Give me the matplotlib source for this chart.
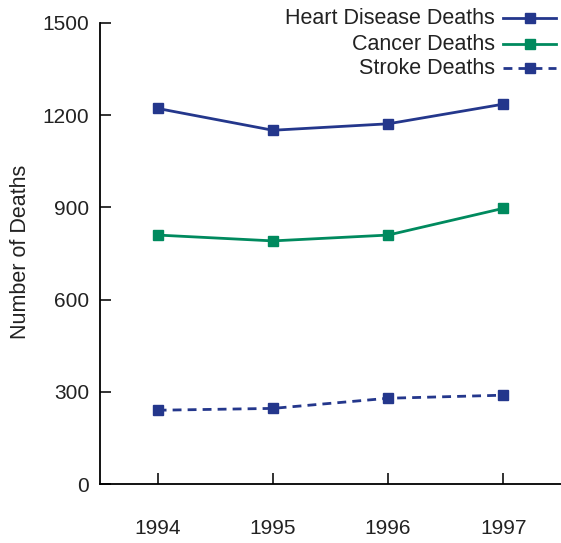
import matplotlib
matplotlib.use("Agg")
import matplotlib.pyplot as plt
from matplotlib.lines import Line2D

years = [1994, 1995, 1996, 1997]
heart = [1222, 1151, 1172, 1236]
cancer = [810, 791, 810, 897]
stroke = [240, 246, 279, 289]
yticks = [0, 300, 600, 900, 1200, 1500]

navy = "#24378c"
green = "#008a5e"
series = [
    ("Heart Disease Deaths", heart, navy, "-"),
    ("Cancer Deaths", cancer, green, "-"),
    ("Stroke Deaths", stroke, navy, (0, (3.2, 2.2))),
]

plt.rcParams["font.family"] = ["Liberation Sans", "DejaVu Sans"]
fig = plt.figure(figsize=(5.61, 5.43), dpi=100)
ax = fig.add_axes([100 / 561, 1 - 484 / 543, 461 / 561, 461 / 543])

for name, vals, col, ls in series:
    ax.plot(years, vals, color=col, linestyle=ls, lw=2.0, marker="s", ms=6.5,
            markeredgecolor=col, markerfacecolor=col)

ax.set_xlim(1993.5, 1997.5)
ax.set_ylim(0, 1500)
ax.set_xticks(years)
ax.set_xticklabels([str(y) for y in years])
ax.set_yticks(yticks)
ax.spines["top"].set_visible(False)
ax.spines["right"].set_visible(False)
ax.spines["left"].set_linewidth(1.3)
ax.spines["bottom"].set_linewidth(1.3)
ax.tick_params(axis="y", direction="in", length=8, width=1.3, pad=8, labelsize=15, colors="#222222")
ax.tick_params(axis="x", direction="in", length=8, width=1.3, pad=25, labelsize=15, colors="#222222")
ax.set_ylabel("Number of Deaths", fontsize=15.5, color="#222222")
ax.yaxis.set_label_coords(31 / 561, 1 - 252 / 543, transform=fig.transFigure)

# manual legend with right-aligned labels
row_y = [18, 44, 68]
x0, x1 = 503 / 561, 556 / 561
for (name, vals, col, ls), py in zip(series, row_y):
    yf = 1 - py / 543
    fig.add_artist(Line2D([x0, x1], [yf, yf], transform=fig.transFigure,
                          color=col, linestyle=ls, lw=2.0))
    fig.add_artist(Line2D([(x0 + x1) / 2], [yf], transform=fig.transFigure,
                          color=col, marker="s", ms=6.5, linestyle="none"))
    fig.text(495 / 561, yf, name, ha="right", va="center", fontsize=15.5, color="#222222")

fig.savefig("out.png", dpi=100)
